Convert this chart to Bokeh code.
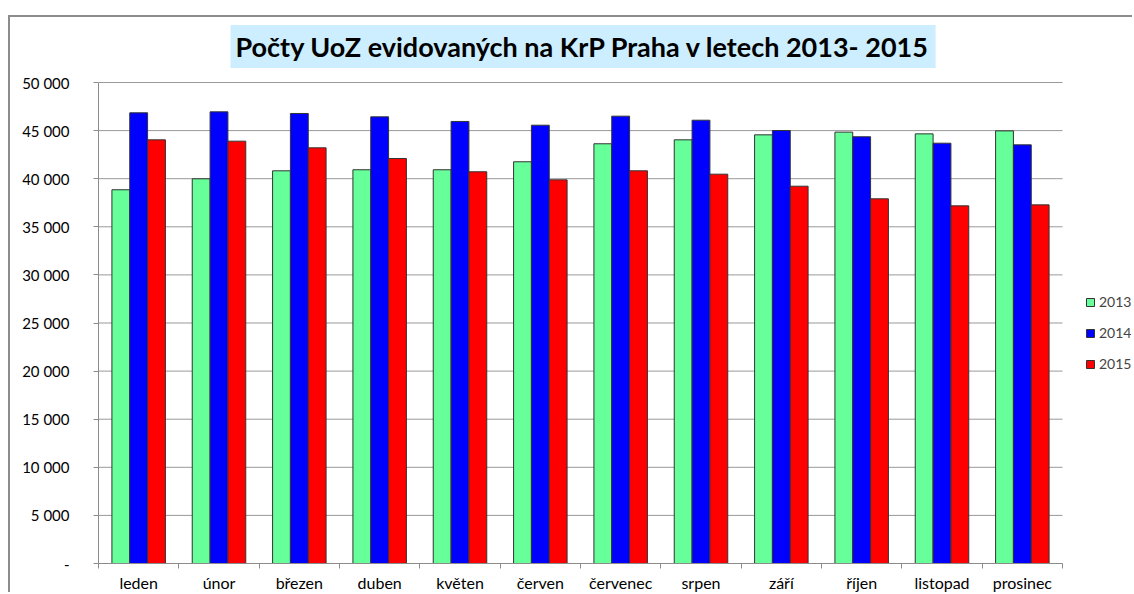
from bokeh.plotting import figure
from bokeh.models import ColumnDataSource, FixedTicker, Legend, LegendItem, Label
from bokeh.transform import dodge
from bokeh.embed import file_html
from bokeh.resources import INLINE
import numpy as np

title_text = "Počty UoZ evidovaných na KrP Praha v letech 2013- 2015"
months = ["leden", "únor", "březen", "duben", "květen", "červen",
          "červenec", "srpen", "září", "říjen", "listopad", "prosinec"]
years = ["2013", "2014", "2015"]
v2013 = [38850, 39990, 40820, 40930, 40930, 41760, 43630, 44040, 44560, 44840, 44660, 44970]
v2014 = [46850, 46950, 46780, 46430, 45950, 45560, 46500, 46080, 45010, 44360, 43690, 43520]
v2015 = [44040, 43900, 43210, 42100, 40720, 39880, 40820, 40470, 39220, 37910, 37180, 37280]
y_ticks = [0, 5000, 10000, 15000, 20000, 25000, 30000, 35000, 40000, 45000, 50000]
y_tick_labels = ["-", "5 000", "10 000", "15 000", "20 000", "25 000", "30 000",
                 "35 000", "40 000", "45 000", "50 000"]
colors = ["#66FF99", "#0000FF", "#FF0000"]

n = len(months)
y_max = y_ticks[-1]
pos = list(np.arange(n) + 0.5)
src = ColumnDataSource(dict(x=pos, y2013=v2013, y2014=v2014, y2015=v2015))
grid_src = ColumnDataSource(dict(x0=[0] * len(y_ticks), x1=[n] * len(y_ticks), y=y_ticks))

# frame covers the category area plus room for legend (right) and title (top)
x_end = n * 1036 / 964
y_end = y_max * (481 + 65) / 481
p = figure(width=1124, height=577, output_backend="svg", toolbar_location=None,
           title=None, x_range=(0, x_end), y_range=(0, y_end),
           min_border_left=88, min_border_right=0, min_border_top=0,
           min_border_bottom=31)
p.margin = (15, 0, 0, 8)
p.styles = {"border-top": "2px solid #8c8c8c", "border-left": "2px solid #8c8c8c"}
p.outline_line_color = None
p.background_fill_color = "white"
p.border_fill_color = "white"

# title
title = Label(text=title_text, x=132, y=517, x_units="screen", y_units="screen",
              text_align="left", text_baseline="middle",
              text_font="Lato", text_font_style="bold", text_font_size="27px",
              text_color="#000000", background_fill_color="#CCEEFF", padding=5)
p.add_layout(title)

# horizontal gridlines limited to the category area
p.segment(x0="x0", x1="x1", y0="y", y1="y", source=grid_src,
          line_color="#999999", line_width=1)

bw = 0.222
renderers = []
for i, (yr, col) in enumerate(zip(years, colors)):
    r = p.vbar(x=dodge("x", (i - 1) * bw, range=p.x_range), top="y" + yr,
               width=bw, source=src, fill_color=col, line_color="#333333",
               line_width=1)
    renderers.append(r)

# axes
p.xaxis.bounds = (0, n)
p.xaxis.ticker = FixedTicker(ticks=pos, minor_ticks=list(range(n + 1)))
p.xaxis.major_label_overrides = {float(x): m for x, m in zip(pos, months)}
p.xaxis.major_tick_out = 0
p.xaxis.major_tick_in = 0
p.xaxis.minor_tick_out = 5
p.xaxis.minor_tick_in = 0
p.xaxis.minor_tick_line_color = "#8c8c8c"
p.xaxis.axis_line_color = "#8c8c8c"
p.xaxis.major_label_standoff = 4
p.xaxis.major_label_text_font = "Lato"
p.xaxis.major_label_text_font_size = "16px"
p.xaxis.major_label_text_color = "#000000"

p.yaxis.bounds = (0, y_max)
p.yaxis.ticker = FixedTicker(ticks=y_ticks, minor_ticks=[])
p.yaxis.major_label_overrides = {t: l for t, l in zip(y_ticks, y_tick_labels)}
p.yaxis.major_tick_out = 5
p.yaxis.major_tick_in = 0
p.yaxis.major_tick_line_color = "#8c8c8c"
p.yaxis.axis_line_color = "#8c8c8c"
p.yaxis.major_label_standoff = 24
p.yaxis.major_label_text_font = "Lato"
p.yaxis.major_label_text_font_size = "15px"
p.yaxis.major_label_text_color = "#000000"

p.xgrid.grid_line_color = None
p.ygrid.grid_line_color = None

legend = Legend(items=[LegendItem(label=yr, renderers=[r]) for yr, r in zip(years, renderers)],
                location=(987, 191), orientation="vertical")
legend.glyph_width = 10
legend.glyph_height = 10
legend.label_height = 16
legend.spacing = 14
legend.padding = 0
legend.margin = 0
legend.label_standoff = 4
legend.border_line_color = None
legend.background_fill_alpha = 0
legend.label_text_font = "Lato"
legend.label_text_font_size = "14px"
p.add_layout(legend, "center")

open("out.html", "w").write(file_html(p, INLINE))
